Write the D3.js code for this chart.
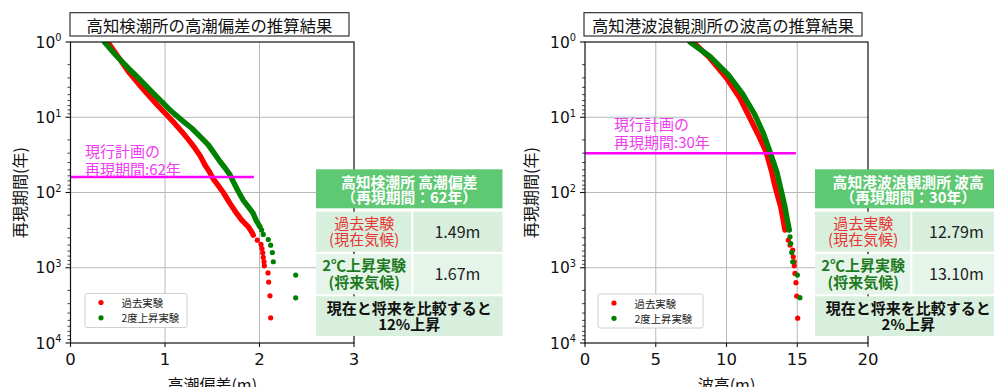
<!DOCTYPE html>
<html><head><meta charset="utf-8">
<script src="https://cdn.jsdelivr.net/npm/d3@7"></script>
<style>body{margin:0;background:#fff}svg{display:block}</style>
</head><body>
<svg id="c" width="994" height="387"></svg>
<script>
// ---------------- data ----------------
const yTickValues = [1, 10, 100, 1000, 10000];
const yTickExponents = ["0", "1", "2", "3", "4"];
const surgeTicks = [0, 1, 2, 3];
const waveTicks = [0, 5, 10, 15, 20];
const seriesNames = ["過去実験", "2度上昇実験"];
const seriesColors = ["#ff0000", "#008000"];

// [value (m), return period (years)]
const surgePastCurve = [[0.394,1],[0.50,1.55],[0.612,2.47],[0.72,3.6],[0.823,5.06],[0.92,6.9],[1.018,9.3],[1.10,12],[1.177,15.5],[1.25,20],[1.317,25.8],[1.375,33],[1.423,43],[1.47,53],[1.511,66],[1.56,80],[1.617,100],[1.688,140],[1.759,190],[1.812,233],[1.882,286],[1.917,334],[1.934,369]];
const surgePastTail = [[1.977,430],[2.016,490],[2.026,555],[2.034,634],[2.040,730],[2.048,832],[2.051,943],[2.090,1170],[2.097,1550],[2.111,2360],[2.118,4630]];
const surgeFutureCurve = [[0.358,1],[0.48,1.5],[0.612,2.23],[0.74,3.2],[0.859,4.56],[0.96,6.1],[1.071,8.4],[1.18,11],[1.283,14],[1.37,18],[1.458,23.3],[1.52,30],[1.582,38.7],[1.64,48],[1.688,58.4],[1.723,72],[1.776,97],[1.829,127],[1.882,155],[1.934,190],[1.963,233],[2.005,286]];
const surgeFutureTail = [[2.023,316],[2.040,361],[2.093,421],[2.118,501],[2.136,627],[2.146,832],[2.383,1253],[2.383,2510]];

const wavePastCurve = [[7.65,1],[8.83,1.64],[10.01,3.03],[10.95,5.6],[11.66,10.3],[12.25,17.2],[12.79,28.6],[13.19,52.6],[13.35,72],[13.55,100],[13.83,155],[14.01,233],[14.13,316]];
const wavePastTail = [[14.37,430],[14.49,500],[14.68,583],[14.72,716],[14.79,832],[14.79,943],[14.84,1190],[14.91,1580],[14.96,2380],[15.03,4680]];
const waveFutureCurve = [[7.42,1],[8.83,1.56],[10.13,2.74],[11.19,5.06],[12.01,9.3],[12.6,16.3],[13.07,28.6],[13.55,52.6],[13.72,72],[13.9,100],[14.13,155],[14.3,233],[14.44,316]];
const waveFutureTail = [[14.49,388],[14.54,476],[14.61,625],[14.68,832],[15.01,1250],[15.19,2500]];

const surgePlanYears = 62;
const wavePlanYears = 30;

const surgeTable = {
  header: ["高知検潮所 高潮偏差", "（再現期間：62年）"],
  pastLabel: ["過去実験", "(現在気候)"], pastValue: "1.49m",
  futureLabel: ["2℃上昇実験", "(将来気候)"], futureValue: "1.67m",
  summary: ["現在と将来を比較すると", "12%上昇"]
};
const waveTable = {
  header: ["高知港波浪観測所 波高", "（再現期間：30年）"],
  pastLabel: ["過去実験", "(現在気候)"], pastValue: "12.79m",
  futureLabel: ["2℃上昇実験", "(将来気候)"], futureValue: "13.10m",
  summary: ["現在と将来を比較すると", "2%上昇"]
};

// ---------------- layout ----------------
const JP = "'Noto Sans CJK JP','Noto Sans',sans-serif";
const NUM = "'DejaVu Sans',sans-serif";
const plotTop = 42, plotBottom = 343;

const panels = [
  { title: "高知検潮所の高潮偏差の推算結果", xLabel: "高潮偏差(m)", domain: [0, 3], ticks: surgeTicks,
    left: 70.5, right: 354, titleBox: [70, 349], yLabelX: 19,
    series: [[surgePastCurve, surgePastTail], [surgeFutureCurve, surgeFutureTail]],
    plan: surgePlanYears, planEnd: 1.94, planText: ["現行計画の", "再現期間:62年"], planTextX: 85, planTextY: 149.7,
    legend: { x: 85, y: 293.5, w: 102, h: 34 },
    table: surgeTable, tableX: 316 },
  { title: "高知港波浪観測所の波高の推算結果", xLabel: "波高(m)", domain: [0, 20], ticks: waveTicks,
    left: 585, right: 868, titleBox: [584, 862], yLabelX: 530,
    series: [[wavePastCurve, wavePastTail], [waveFutureCurve, waveFutureTail]],
    plan: wavePlanYears, planEnd: 14.9, planText: ["現行計画の", "再現期間:30年"], planTextX: 614, planTextY: 123.3,
    legend: { x: 598, y: 294, w: 105, h: 34 },
    table: waveTable, tableX: 815 }
];

const svg = d3.select("#c");
svg.append("rect").attr("width", 994).attr("height", 387).attr("fill", "#fff");

// multi-line text helper (one text element, tspans per line)
function multiText(sel, lines, x, y, lh, attrs) {
  const t = sel.append("text").attr("x", x).attr("y", y).attr("dominant-baseline", "central");
  Object.entries(attrs).forEach(([k, v]) => t.attr(k, v));
  lines.forEach((s, i) => t.append("tspan").attr("x", x).attr("dy", i === 0 ? 0 : lh).text(s));
  return t;
}

panels.forEach((p, pi) => {
  const x = d3.scaleLinear().domain(p.domain).range([p.left, p.right]);
  const y = d3.scaleLog().domain([1, 10000]).range([plotTop, plotBottom]);
  const g = svg.append("g");

  // grid
  g.append("g").selectAll("line").data(p.ticks.slice(1, -1)).join("line")
    .attr("x1", d => x(d)).attr("x2", d => x(d)).attr("y1", plotTop).attr("y2", plotBottom)
    .attr("stroke", "#b8b8b8").attr("stroke-width", 1);
  g.append("g").selectAll("line").data(yTickValues.slice(1, -1)).join("line")
    .attr("x1", p.left).attr("x2", p.right).attr("y1", d => y(d)).attr("y2", d => y(d))
    .attr("stroke", "#b8b8b8").attr("stroke-width", 1);

  // clip
  const clipId = "clip" + pi;
  svg.append("clipPath").attr("id", clipId).append("rect")
    .attr("x", p.left).attr("y", plotTop).attr("width", p.right - p.left).attr("height", plotBottom - plotTop);
  const plot = g.append("g").attr("clip-path", `url(#${clipId})`);

  const line = d3.line().x(d => x(d[0])).y(d => y(d[1])).curve(d3.curveLinear);
  p.series.forEach((s, si) => {
    plot.append("path").datum(s[0]).attr("d", line).attr("fill", "none")
      .attr("stroke", seriesColors[si]).attr("stroke-width", 5.4)
      .attr("stroke-linecap", "round").attr("stroke-linejoin", "round");
    plot.append("g").selectAll("circle").data(s[1]).join("circle")
      .attr("cx", d => x(d[0])).attr("cy", d => y(d[1])).attr("r", 2.6)
      .attr("fill", seriesColors[si]);
  });

  // plan line
  g.append("line").attr("x1", x(0)).attr("x2", x(p.planEnd))
    .attr("y1", y(p.plan)).attr("y2", y(p.plan))
    .attr("stroke", "#ff00ff").attr("stroke-width", 2.5);
  multiText(g, p.planText, p.planTextX, p.planTextY, 17.8,
    { "font-family": JP, "font-size": 15, "fill": "#f03cf0" });

  // frame
  g.append("rect").attr("x", p.left).attr("y", plotTop).attr("width", p.right - p.left)
    .attr("height", plotBottom - plotTop).attr("fill", "none").attr("stroke", "#111").attr("stroke-width", 1.2);

  // y ticks
  const minor = [];
  yTickValues.slice(0, -1).forEach(d => { for (let k = 2; k <= 9; k++) minor.push(d * k); });
  g.append("g").selectAll("line").data(minor).join("line")
    .attr("x1", p.left - 3).attr("x2", p.left).attr("y1", d => y(d)).attr("y2", d => y(d))
    .attr("stroke", "#111").attr("stroke-width", 0.8);
  g.append("g").selectAll("line").data(yTickValues).join("line")
    .attr("x1", p.left - 5).attr("x2", p.left).attr("y1", d => y(d)).attr("y2", d => y(d))
    .attr("stroke", "#111").attr("stroke-width", 1.1);
  yTickValues.forEach((d, i) => {
    const t = g.append("text").attr("x", p.left - 9).attr("y", y(d) + 5.6)
      .attr("text-anchor", "end").attr("font-family", NUM).attr("font-size", 15.5).attr("fill", "#111");
    t.append("tspan").text("10");
    t.append("tspan").attr("dy", -6.3).attr("font-size", 9.8).text(yTickExponents[i]);
  });

  // x ticks
  g.append("g").selectAll("line").data(p.ticks).join("line")
    .attr("x1", d => x(d)).attr("x2", d => x(d)).attr("y1", plotBottom).attr("y2", plotBottom + 4)
    .attr("stroke", "#111").attr("stroke-width", 1.1);
  g.append("g").selectAll("text").data(p.ticks).join("text")
    .attr("x", d => x(d)).attr("y", 365).attr("text-anchor", "middle")
    .attr("font-family", NUM).attr("font-size", 16.5).attr("fill", "#111").text(d => d);

  // axis labels
  g.append("text").attr("x", (p.left + p.right) / 2).attr("y", 383.5).attr("dominant-baseline", "central")
    .attr("text-anchor", "middle").attr("font-family", JP).attr("font-size", 16).attr("fill", "#111").text(p.xLabel);
  g.append("text").attr("transform", `translate(${p.yLabelX},${(plotTop + plotBottom) / 2}) rotate(-90)`)
    .attr("dominant-baseline", "central").attr("text-anchor", "middle")
    .attr("font-family", JP).attr("font-size", 16).attr("fill", "#111").text("再現期間(年)");

  // title box
  g.append("rect").attr("x", p.titleBox[0]).attr("y", 12.7).attr("width", p.titleBox[1] - p.titleBox[0])
    .attr("height", 23.3).attr("fill", "#fff").attr("stroke", "#222").attr("stroke-width", 1.1);
  g.append("text").attr("x", (p.titleBox[0] + p.titleBox[1]) / 2).attr("y", 24.6)
    .attr("dominant-baseline", "central").attr("text-anchor", "middle")
    .attr("font-family", JP).attr("font-size", 16.4).attr("fill", "#111").text(p.title);

  // legend
  const L = p.legend;
  g.append("rect").attr("x", L.x).attr("y", L.y).attr("width", L.w).attr("height", L.h).attr("rx", 2)
    .attr("fill", "#fff").attr("stroke", "#d0d0d0").attr("stroke-width", 1);
  seriesNames.forEach((n, i) => {
    const cy = L.y + 9 + i * 15.3;
    g.append("circle").attr("cx", L.x + 16).attr("cy", cy).attr("r", 2.6).attr("fill", seriesColors[i]);
    g.append("text").attr("x", L.x + 36.5).attr("y", cy).attr("dominant-baseline", "central")
      .attr("font-family", JP).attr("font-size", 10.4).attr("fill", "#222").text(n);
  });

  // table
  const T = p.table, tx = p.tableX, tw = 186.5, split = 96.3;
  const tg = svg.append("g");
  const rowsY = [[169.3, 208.3], [211.7, 251.7], [254, 294.3], [296.3, 336]];
  tg.append("rect").attr("x", tx).attr("y", rowsY[0][0]).attr("width", tw).attr("height", rowsY[0][1] - rowsY[0][0]).attr("fill", "#5ec872");
  [[1, "#d7efdc"], [2, "#e6f5e9"]].forEach(([r, c]) => {
    tg.append("rect").attr("x", tx).attr("y", rowsY[r][0]).attr("width", split - 1).attr("height", rowsY[r][1] - rowsY[r][0]).attr("fill", c);
    tg.append("rect").attr("x", tx + split + 1).attr("y", rowsY[r][0]).attr("width", tw - split - 1).attr("height", rowsY[r][1] - rowsY[r][0]).attr("fill", c);
  });
  tg.append("rect").attr("x", tx).attr("y", rowsY[3][0]).attr("width", tw).attr("height", rowsY[3][1] - rowsY[3][0]).attr("fill", "#d7efdc");

  const cxAll = tx + tw / 2, cxL = tx + split / 2, cxR = tx + split + (tw - split) / 2;
  const base = (size, bold, fill) => ({ "font-family": JP, "font-size": size, "font-weight": bold ? "bold" : "normal",
    "fill": fill, "text-anchor": "middle" });
  multiText(tg, T.header, cxAll, 180.7, 15, base(14.8, true, "#fff"));
  multiText(tg, T.pastLabel, cxL, 221.7, 16.5, base(15, false, "#e83535"));
  multiText(tg, [T.pastValue], cxR, 231, 0, base(16, false, "#222"));
  multiText(tg, T.futureLabel, cxL, 264, 16.8, base(15, true, "#1d7a22"));
  multiText(tg, [T.futureValue], cxR, 273.3, 0, base(16, false, "#222"));
  multiText(tg, T.summary, cxAll, 306.7, 16.6, base(15, true, "#111"));
});
</script>
</body></html>
